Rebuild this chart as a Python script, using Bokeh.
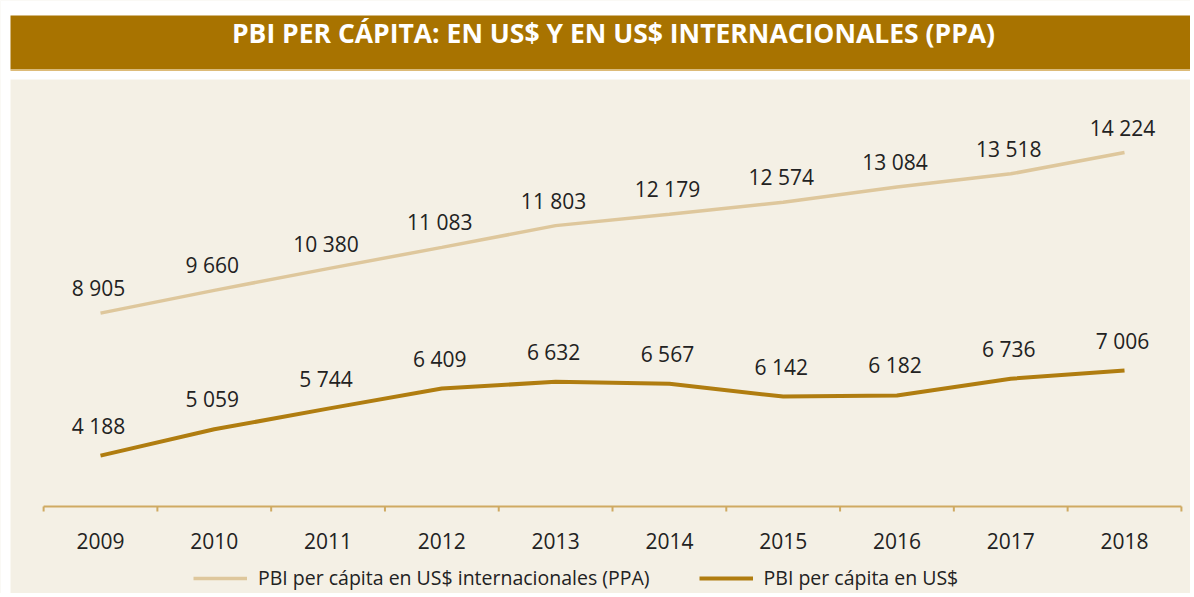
from bokeh.plotting import figure
from bokeh.models import Range1d, Legend, LegendItem, Label, ColumnDataSource
from bokeh.core.properties import value
from bokeh.embed import file_html
from bokeh.resources import INLINE

years = ["2009", "2010", "2011", "2012", "2013", "2014", "2015", "2016", "2017", "2018"]
pbi_ppa = [8905, 9660, 10380, 11083, 11803, 12179, 12574, 13084, 13518, 14224]
pbi_usd = [4188, 5059, 5744, 6409, 6632, 6567, 6142, 6182, 6736, 7006]
title_text = "PBI PER CÁPITA: EN US$ Y EN US$ INTERNACIONALES (PPA)"
legend_ppa = "PBI per cápita en US$ internacionales (PPA)"
legend_usd = "PBI per cápita en US$"

FONT = "Open Sans"
GOLD = "#A87300"
BEIGE = "#F4F0E5"
C_PPA = "#DEC79C"
C_USD = "#B07D10"
C_AXIS = "#CFAA62"
TXT = "#222222"

def fmt(v):
    return f"{v:,}".replace(",", " ")

W, H = 1190, 593
n = len(years)
idx = list(range(n))

p = figure(width=W, height=H, output_backend="svg", toolbar_location=None,
           x_range=Range1d(-0.8789, 9.5799), y_range=Range1d(-377, 19257),
           min_border_top=0, min_border_left=0, min_border_right=0, min_border_bottom=0,
           x_axis_location=None, y_axis_location=None)
p.grid.visible = False
p.outline_line_color = None
p.background_fill_color = BEIGE
p.border_fill_color = BEIGE

# pixel-space ranges for the title band and the axis band
p.extra_x_ranges = {"px": Range1d(0, W)}
p.extra_y_ranges = {"px": Range1d(0, H)}
p.quad(left=[0], right=[W], bottom=[514], top=[H], fill_color="white", line_color=None,
       x_range_name="px", y_range_name="px")
p.quad(left=[0], right=[10], bottom=[0], top=[H], fill_color="white", line_color=None,
       x_range_name="px", y_range_name="px")
p.quad(left=[10], right=[W], bottom=[524], top=[578], fill_color=GOLD, line_color=None,
       x_range_name="px", y_range_name="px")
p.quad(left=[10], right=[W], bottom=[522.5], top=[524], fill_color="#DDBB78", line_color=None,
       x_range_name="px", y_range_name="px")
p.add_layout(Label(x=613, y=561, x_range_name="px", y_range_name="px", text=title_text,
                   text_align="center", text_baseline="middle", text_color="white",
                   text_font=FONT, text_font_style="bold", text_font_size="26.5px"))

# category axis: baseline, edge ticks and year labels
AX_Y = 87
edges = [i - 0.5 for i in range(n + 1)]
p.segment(x0=[edges[0]], x1=[edges[-1]], y0=[AX_Y], y1=[AX_Y], line_color=C_AXIS,
          line_width=2, y_range_name="px")
p.segment(x0=edges, x1=edges, y0=[AX_Y] * len(edges), y1=[AX_Y - 5] * len(edges),
          line_color=C_AXIS, line_width=2, y_range_name="px")
p.text(x=idx, y=[AX_Y - 34] * n, text=years, y_range_name="px", text_align="center",
       text_baseline="middle", text_font=value(FONT), text_font_size="21px", text_color=TXT)

r_ppa = p.line(idx, pbi_ppa, line_color=C_PPA, line_width=3.5)
r_usd = p.line(idx, pbi_usd, line_color=C_USD, line_width=4)

src_ppa = ColumnDataSource(dict(x=idx, y=pbi_ppa, t=[fmt(v) for v in pbi_ppa]))
src_usd = ColumnDataSource(dict(x=idx, y=pbi_usd, t=[fmt(v) for v in pbi_usd]))
for src, off in ((src_ppa, -25), (src_usd, -30)):
    p.text(x="x", y="y", text="t", source=src, text_align="center", text_baseline="middle",
           y_offset=off, x_offset=-2, text_font=value(FONT), text_font_size="21px",
           text_color=TXT)

legend = Legend(items=[LegendItem(label=legend_ppa, renderers=[r_ppa]),
                       LegendItem(label=legend_usd, renderers=[r_usd])],
                orientation="horizontal", location=(193, 2),
                background_fill_alpha=0, border_line_alpha=0,
                glyph_width=54, glyph_height=20, label_standoff=11, spacing=49,
                padding=0, margin=0,
                label_text_font=FONT, label_text_font_size="19.5px", label_text_color=TXT)
p.add_layout(legend, "center")

open("out.html", "w").write(file_html(p, INLINE))
